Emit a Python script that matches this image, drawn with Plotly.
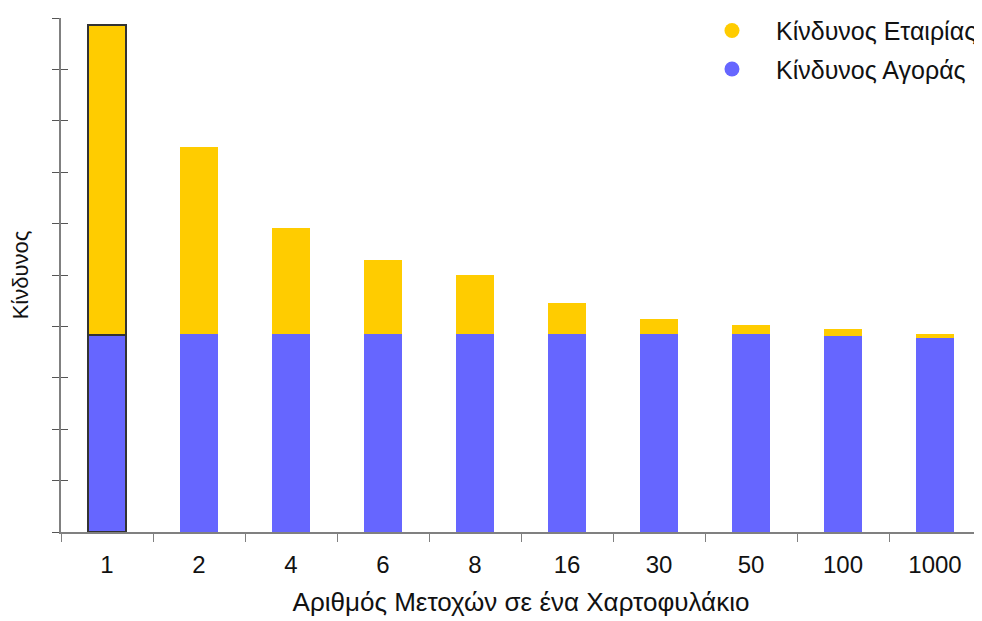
import plotly.graph_objects as go

categories = ["1", "2", "4", "6", "8", "16", "30", "50", "100", "1000"]
market_risk = [3.83, 3.85, 3.85, 3.85, 3.85, 3.86, 3.86, 3.86, 3.81, 3.77]
total_risk = [9.86, 7.49, 5.91, 5.29, 5.00, 4.46, 4.15, 4.03, 3.94, 3.86]
firm_risk = [round(t - m, 2) for t, m in zip(total_risk, market_risk)]

YELLOW = "#FFCC00"
BLUE = "#6666FF"
FONT = "Liberation Sans, Arial, sans-serif"

line_w = [1.5] + [0] * (len(categories) - 1)

fig = go.Figure()
fig.add_trace(go.Bar(x=categories, y=market_risk, marker=dict(color=BLUE, line=dict(color="#333333", width=line_w)),
                     width=0.41, showlegend=False, name="Κίνδυνος Αγοράς"))
fig.add_trace(go.Bar(x=categories, y=firm_risk, marker=dict(color=YELLOW, line=dict(color="#333333", width=line_w)),
                     width=0.41, showlegend=False, name="Κίνδυνος Εταιρίας"))
# legend entries with round symbols
fig.add_trace(go.Scatter(x=[None], y=[None], mode="markers", name="Κίνδυνος Εταιρίας",
                         marker=dict(color=YELLOW, size=15, symbol="circle"), legendgroup="a"))
fig.add_trace(go.Scatter(x=[None], y=[None], mode="markers", name="Κίνδυνος Αγοράς",
                         marker=dict(color=BLUE, size=15, symbol="circle"), legendgroup="b"))
# overlay axis for inner half of y ticks
fig.add_trace(go.Scatter(x=[None], y=[None], yaxis="y2", showlegend=False))

# the page body has an 8px default margin, so the figure is sized/offset to compensate
fig.update_layout(
    barmode="stack",
    width=974, height=613,
    margin=dict(l=53, r=1, t=10, b=89, autoexpand=False),
    plot_bgcolor="white", paper_bgcolor="white",
    font=dict(family=FONT, size=24, color="#111111"),
    xaxis=dict(
        type="category", range=[-0.5, 9.5], automargin=False,
        showline=True, linecolor="#808080", linewidth=2,
        ticks="outside", ticklen=8, tickcolor="#808080", tickson="boundaries",
        showgrid=False, zeroline=False,
        tickfont=dict(size=24), ticklabelstandoff=10,
        title=dict(text="Αριθμός Μετοχών σε ένα Χαρτοφυλάκιο", font=dict(size=26), standoff=16),
    ),
    yaxis=dict(
        range=[0, 10], dtick=1, showticklabels=False, automargin=False,
        showline=True, linecolor="#808080", linewidth=2,
        ticks="outside", ticklen=7, tickcolor="#555555",
        showgrid=False, zeroline=False,
        title=dict(text="Κίνδυνος", font=dict(size=22), standoff=18),
    ),
    yaxis2=dict(
        overlaying="y", range=[0, 10], dtick=1, showticklabels=False,
        ticks="inside", ticklen=7, tickcolor="#555555",
        showgrid=False, zeroline=False, showline=False, side="left",
    ),
    legend=dict(
        x=0.6815, y=1.02, xanchor="left", yanchor="top",
        font=dict(size=25), traceorder="grouped", tracegroupgap=3,
        bgcolor="rgba(0,0,0,0)", itemwidth=78,
    ),
)

fig.write_html("out.html")
